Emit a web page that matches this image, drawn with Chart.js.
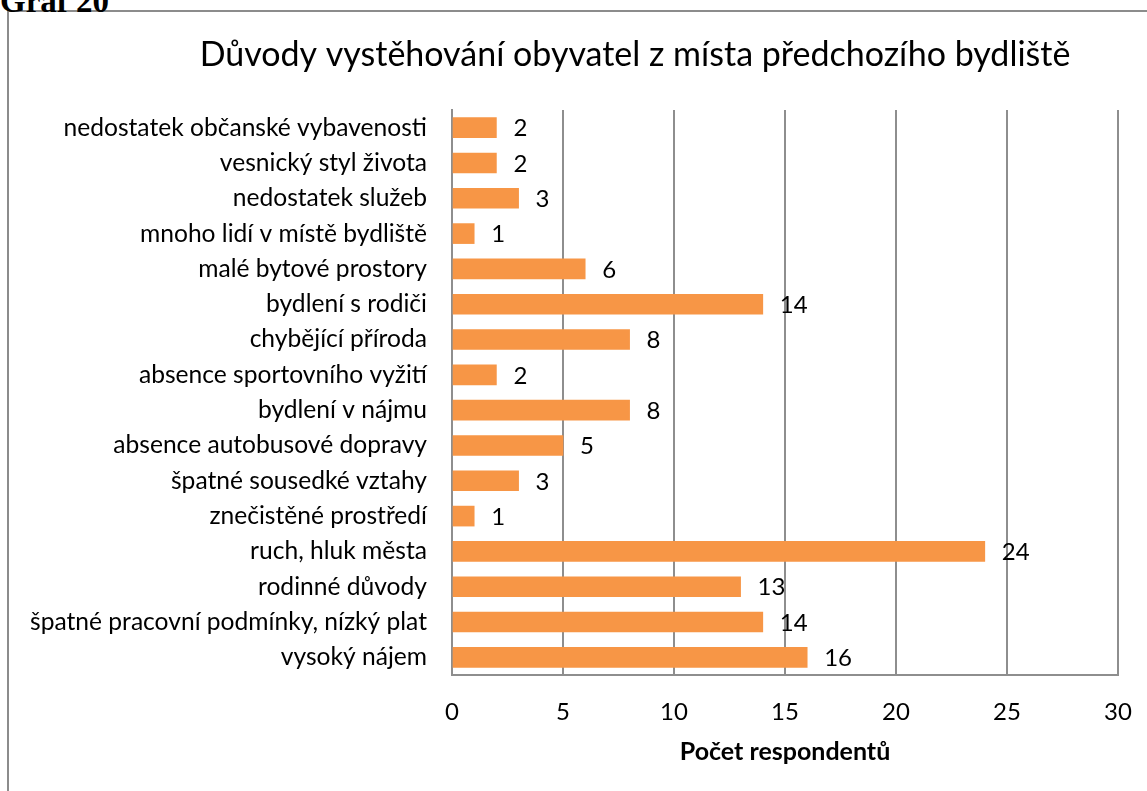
<!DOCTYPE html>
<html>
<head>
<meta charset="utf-8">
<script src="https://cdn.jsdelivr.net/npm/chart.js@4/dist/chart.umd.min.js"></script>
<style>
  html, body { margin: 0; padding: 0; background: #fff; overflow: hidden; }
  #frame { position: absolute; left: 7px; top: 10px; width: 2000px; height: 2000px;
           border-left: 2px solid #8c8c8c; border-top: 2px solid #8c8c8c; }
  #graf { position: absolute; left: 0px; top: -17px; font-family: "Liberation Serif", serif;
          font-weight: bold; font-size: 33px; color: #000; white-space: nowrap; }
  #wrap { position: absolute; left: 0; top: 0; width: 1147px; height: 791px; }
</style>
</head>
<body>
<div id="frame"></div>
<div id="graf">Graf 20</div>
<div id="wrap"><canvas id="c" width="1147" height="791"></canvas></div>
<script>
const chartTitle = "Důvody vystěhování obyvatel z místa předchozího bydliště";
const axisTitle = "Počet respondentů";
const categories = [
  "nedostatek občanské vybavenosti",
  "vesnický styl života",
  "nedostatek služeb",
  "mnoho lidí v místě bydliště",
  "malé bytové prostory",
  "bydlení s rodiči",
  "chybějící příroda",
  "absence sportovního vyžití",
  "bydlení v nájmu",
  "absence autobusové dopravy",
  "špatné sousedké vztahy",
  "znečistěné prostředí",
  "ruch, hluk města",
  "rodinné důvody",
  "špatné pracovní podmínky, nízký plat",
  "vysoký nájem"
];
const values = [2, 2, 3, 1, 6, 14, 8, 2, 8, 5, 3, 1, 24, 13, 14, 16];
const xTicks = [0, 5, 10, 15, 20, 25, 30];

const FONT = "Lato";
const gridColor = "#8e8e8e";

const valueLabels = {
  id: "valueLabels",
  afterDatasetsDraw(chart) {
    const ctx = chart.ctx;
    const meta = chart.getDatasetMeta(0);
    ctx.save();
    ctx.font = "24px " + FONT;
    ctx.fillStyle = "#000";
    ctx.textAlign = "left";
    ctx.textBaseline = "middle";
    meta.data.forEach((bar, i) => {
      ctx.fillText(String(values[i]), bar.x + 17, bar.y + 1);
    });
    ctx.restore();
  }
};

const titleText = {
  id: "titleText",
  afterDraw(chart) {
    const ctx = chart.ctx;
    ctx.save();
    ctx.font = "34px " + FONT;
    ctx.fillStyle = "#000";
    ctx.textAlign = "center";
    ctx.textBaseline = "middle";
    ctx.fillText(chartTitle, 635, 55);
    ctx.restore();
  }
};

new Chart(document.getElementById("c"), {
  type: "bar",
  data: {
    labels: categories,
    datasets: [{
      data: values,
      backgroundColor: "#F79646",
      borderWidth: 0,
      barThickness: 20
    }]
  },
  options: {
    indexAxis: "y",
    responsive: false,
    animation: false,
    layout: { padding: { left: 0, right: 29, top: 110, bottom: 24 } },
    plugins: {
      legend: { display: false },
      tooltip: { enabled: false },
      title: { display: false }
    },
    scales: {
      x: {
        min: 0, max: 30,
        afterBuildTicks(scale) { scale.ticks = xTicks.map(v => ({ value: v })); },
        afterFit(scale) { scale.height = 92; scale.paddingLeft = 0; scale.paddingRight = 0; },
        grid: { display: true, color: gridColor, lineWidth: 2, drawTicks: false },
        border: { display: true, color: gridColor, width: 2 },
        ticks: { color: "#000", font: { family: FONT, size: 24 }, padding: 23, maxRotation: 0 },
        title: {
          display: true, text: axisTitle, color: "#000",
          font: { family: FONT, size: 25, weight: "bold" },
          padding: { top: 0, bottom: 0 }
        }
      },
      y: {
        afterFit(scale) { scale.width = 452; },
        grid: { display: false, drawTicks: false },
        border: { display: true, color: gridColor, width: 2 },
        ticks: { color: "#000", font: { family: FONT, size: 24.6 }, padding: 25, autoSkip: false }
      }
    }
  },
  plugins: [valueLabels, titleText]
});
</script>
</body>
</html>
